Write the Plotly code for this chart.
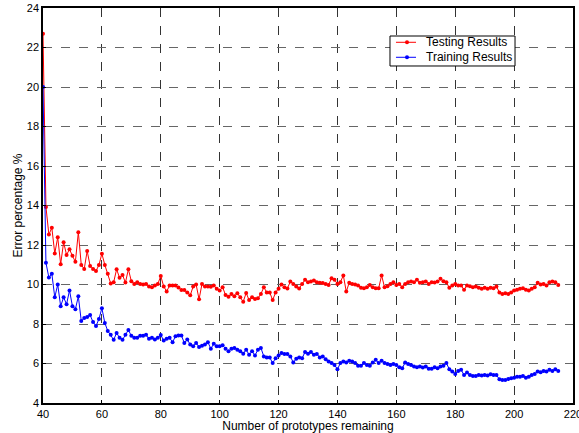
import plotly.graph_objects as go

x_start = 40
testing = [22.7, 13.93, 12.53, 12.87, 11.57, 12.39, 11.03, 12.14, 11.5, 11.78,
           11.45, 11.15, 12.65, 10.99, 10.79, 11.7, 10.94, 10.79, 10.68, 10.99,
           11.56, 10.99, 10.55, 10.05, 10.12, 10.77, 10.34, 10.48, 10.1, 10.77,
           10.17, 10.02, 10.12, 10.03, 10.0, 10.03, 9.9, 9.86, 9.95, 10.03,
           10.43, 9.9, 9.65, 9.95, 9.95, 9.95, 9.85, 9.72, 9.72, 9.6,
           9.45, 9.9, 10.0, 9.25, 10.03, 9.9, 9.9, 9.88, 9.95, 9.78,
           9.7, 9.86, 9.47, 9.38, 9.52, 9.4, 9.56, 9.35, 9.13, 9.57,
           9.21, 9.35, 9.26, 9.3, 9.52, 9.86, 9.6, 9.6, 9.21, 9.6,
           9.78, 10.0, 9.86, 9.8, 10.15, 10.03, 9.9, 9.8, 10.03, 10.24,
           10.12, 10.15, 10.2, 10.12, 10.09, 10.07, 10.03, 9.98, 10.32, 10.24,
           10.03, 10.12, 10.46, 9.64, 10.09, 10.03, 10.0, 9.95, 9.83, 9.81,
           9.86, 9.98, 9.86, 9.81, 9.81, 10.46, 9.86, 9.91, 10.03, 10.12,
           9.98, 10.03, 9.86, 10.03, 10.12, 10.15, 10.12, 10.24, 10.09, 10.12,
           10.15, 10.03, 10.12, 10.1, 10.15, 10.29, 10.17, 10.12, 9.83, 9.95,
           10.03, 9.95, 9.95, 9.74, 9.95, 9.91, 9.86, 9.9, 9.83, 9.78,
           9.83, 9.78, 9.83, 9.81, 9.9, 9.6, 9.52, 9.56, 9.52, 9.6,
           9.69, 9.73, 9.78, 9.81, 9.74, 9.69, 9.78, 9.86, 10.09, 10.0,
           10.03, 9.95, 10.12, 10.15, 10.12, 9.98]
training = [20.0, 11.1, 10.35, 10.55, 9.35, 10.0, 8.9, 9.35, 9.0, 9.7,
            8.9, 8.75, 9.4, 8.15, 8.3, 8.35, 8.45, 8.1, 7.9, 8.25,
            8.8, 8.05, 7.65, 7.45, 7.2, 7.55, 7.3, 7.2, 7.45, 7.7,
            7.4, 7.3, 7.3, 7.4, 7.4, 7.45, 7.25, 7.3, 7.21, 7.3,
            7.44, 7.16, 7.25, 7.3, 7.08, 7.38, 7.42, 7.42, 7.04, 7.21,
            6.96, 6.87, 7.04, 6.84, 6.9, 6.96, 7.08, 6.75, 7.0, 6.87,
            6.87, 6.92, 6.75, 6.62, 6.75, 6.79, 6.7, 6.62, 6.5, 6.7,
            6.44, 6.62, 6.41, 6.7, 6.79, 6.36, 6.31, 6.31, 6.02, 6.27,
            6.4, 6.53, 6.48, 6.48, 6.36, 6.05, 6.24, 6.31, 6.27, 6.58,
            6.5, 6.58, 6.44, 6.48, 6.31, 6.36, 6.22, 6.1, 6.02, 5.93,
            5.71, 6.02, 6.1, 6.05, 6.14, 6.1, 6.02, 5.88, 5.88, 6.02,
            5.93, 5.88, 6.05, 6.19, 6.02, 6.14, 6.02, 5.97, 5.93, 5.97,
            5.93, 5.81, 5.76, 6.05, 5.97, 5.93, 5.85, 5.81, 5.85, 5.8,
            5.85, 5.73, 5.73, 5.81, 5.76, 5.85, 5.88, 6.02, 5.71, 5.59,
            5.47, 5.62, 5.68, 5.42, 5.54, 5.42, 5.37, 5.37, 5.42, 5.39,
            5.42, 5.39, 5.45, 5.42, 5.42, 5.2, 5.16, 5.16, 5.21, 5.25,
            5.28, 5.33, 5.33, 5.37, 5.28, 5.33, 5.42, 5.47, 5.59, 5.56,
            5.62, 5.59, 5.68, 5.62, 5.71, 5.62]
x_vals = list(range(x_start, x_start + len(testing)))

series_names = ["Testing Results", "Training Results"]
series_colors = ["#ff0000", "#0000ff"]

x_ticks = [40, 60, 80, 100, 120, 140, 160, 180, 200, 220]
y_ticks = [4, 6, 8, 10, 12, 14, 16, 18, 20, 22, 24]

fig = go.Figure()
for name, vals, col in zip(series_names, [testing, training], series_colors):
    fig.add_trace(go.Scatter(x=x_vals, y=vals, mode="lines+markers", name=name,
                             line=dict(color=col, width=1), marker=dict(color=col, size=4)))

# Compact legend box (MATLAB style) drawn in paper coordinates
shapes = [dict(type="rect", xref="paper", yref="paper", x0=0.6547, x1=0.8906, y0=0.8532, y1=0.9291,
               line=dict(color="black", width=1), fillcolor="white", layer="above")]
annotations = []
row_y = [0.9132, 0.8752]
for name, col, yy in zip(series_names, series_colors, row_y):
    shapes.append(dict(type="line", xref="paper", yref="paper", x0=0.6660, x1=0.7038, y0=yy, y1=yy,
                       line=dict(color=col, width=1), layer="above"))
    shapes.append(dict(type="circle", xref="paper", yref="paper", xsizemode="pixel", ysizemode="pixel",
                       xanchor=0.6868, yanchor=yy, x0=-2, x1=2, y0=-2, y1=2,
                       line=dict(color=col, width=0), fillcolor=col, layer="above"))
    annotations.append(dict(text=name, xref="paper", yref="paper", x=0.7189, y=yy,
                            xanchor="left", yanchor="middle", showarrow=False,
                            font=dict(family="Liberation Sans, Arial, sans-serif", size=12, color="black")))

font = dict(family="Liberation Sans, Arial, sans-serif", size=11, color="black")
fig.update_layout(
    width=579, height=433,
    margin=dict(l=43, r=6, t=8, b=30, autoexpand=False),
    paper_bgcolor="white", plot_bgcolor="white",
    font=font,
    showlegend=False,
    shapes=shapes,
    annotations=annotations,
    xaxis=dict(range=[40, 220], tickvals=x_ticks, showline=True, linecolor="black", linewidth=1.5,
               mirror=True, ticks="inside", ticklen=3, tickcolor="black",
               showgrid=True, gridcolor="#333333", griddash="dash", gridwidth=1,
               zeroline=False, automargin=False, ticklabeloverflow="allow",
               title=dict(text="Number of prototypes remaining", standoff=0, font=dict(size=12))),
    yaxis=dict(range=[4, 24], tickvals=y_ticks, showline=True, linecolor="black", linewidth=1.5,
               mirror=True, ticks="inside", ticklen=3, tickcolor="black",
               showgrid=True, gridcolor="#666666", griddash="dash", gridwidth=1,
               zeroline=False, automargin=False,
               title=dict(text="Error percentage %", standoff=2, font=dict(size=12))),
)
fig.write_html("out.html", config={"displayModeBar": False},
               post_script="document.body.style.margin='0';document.body.style.overflow='hidden';")
